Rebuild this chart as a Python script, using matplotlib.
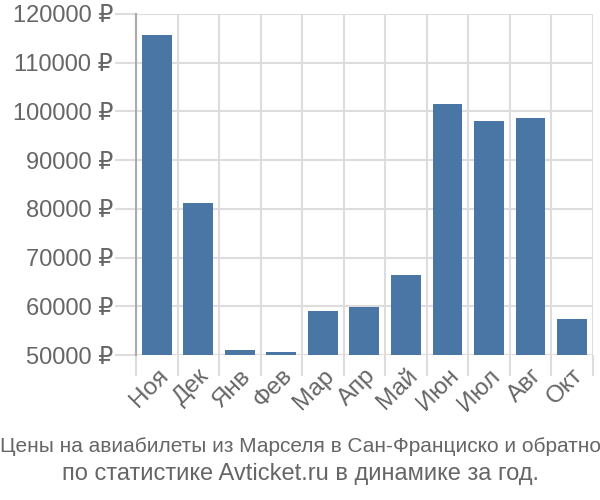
import matplotlib.pyplot as plt
import numpy as np

months = ['Ноя', 'Дек', 'Янв', 'Фев', 'Мар', 'Апр', 'Май', 'Июн', 'Июл', 'Авг', 'Окт']
prices = [115700, 81100, 51100, 50600, 59100, 59800, 66500, 101500, 98000, 98700, 57300]
yticks = [50000, 60000, 70000, 80000, 90000, 100000, 110000, 120000]
caption = ['Цены на авиабилеты из Марселя в Сан-Франциско и обратно',
           'по статистике Avticket.ru в динамике за год.']

plt.rcParams['font.family'] = ['Liberation Sans', 'DejaVu Sans']

fig = plt.figure(figsize=(6, 5), dpi=100)
ax = fig.add_axes([0.2267, 0.29, 0.7613, 0.682])

x = np.arange(len(months))
ax.bar(x, prices, width=0.72, bottom=0, color='#4a76a6', zorder=3)

ax.set_xlim(-0.5, len(months) - 0.5)
ax.set_ylim(50000, 120000)

# major ticks carry the labels, minor ticks draw the grid lines
ax.set_xticks(x)
ax.set_xticklabels(months, rotation=45, ha='right', rotation_mode='anchor')
ax.set_xticks(np.arange(len(months) + 1) - 0.5, minor=True)
ax.set_yticks(yticks)
ax.set_yticklabels([f'{v} ₽' for v in yticks])

ax.tick_params(axis='x', which='major', length=0, pad=7, labelsize=17.5, labelcolor='#666666')
ax.tick_params(axis='x', which='minor', length=15, width=1.5, color='#dddddd')
ax.tick_params(axis='y', length=15, width=1.5, color='#dddddd', pad=1.5, labelsize=17, labelcolor='#666666')

ax.grid(True, which='minor', axis='x', color='#dddddd', linewidth=1.5, zorder=0)
ax.grid(True, which='major', axis='y', color='#dddddd', linewidth=1.5, zorder=0)

for side in ['top', 'right', 'bottom']:
    ax.spines[side].set_visible(False)
ax.spines['left'].set_color('#aaaaaa')
ax.spines['left'].set_linewidth(1.5)
ax.spines['left'].set_bounds(50000, 120000)

fig.text(0.5, 0.106, caption[0], ha='center', va='center', fontsize=15, color='#666666')
fig.text(0.5, 0.052, caption[1], ha='center', va='center', fontsize=17, color='#666666')

fig.savefig('out.png', dpi=100)
